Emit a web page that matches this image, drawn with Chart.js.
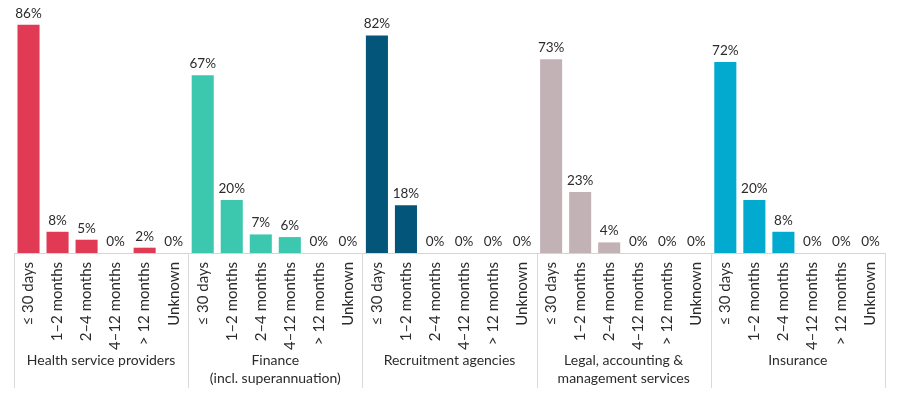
<!DOCTYPE html>
<html>
<head>
<meta charset="utf-8">
<script src="https://cdn.jsdelivr.net/npm/chart.js@4/dist/chart.umd.min.js"></script>
<style>
  html, body { margin: 0; padding: 0; background: #fff; }
  #wrap { width: 900px; height: 395px; position: relative; }
</style>
</head>
<body>
<div id="wrap"><canvas id="c"></canvas></div>
<script>
const groups = ['Health service providers', ['Finance', '(incl. superannuation)'], 'Recruitment agencies', ['Legal, accounting &', 'management services'], 'Insurance'];
const periods = ['≤ 30 days', '1–2 months', '2–4 months', '4–12 months', '> 12 months', 'Unknown'];
const health = [86, 8, 5, 0, 2, 0];
const finance = [67, 20, 7, 6, 0, 0];
const recruitment = [82, 18, 0, 0, 0, 0];
const legal = [73, 23, 4, 0, 0, 0];
const insurance = [72, 20, 8, 0, 0, 0];
const groupColors = ['#E03A54', '#3CC8AE', '#03557A', '#C2B2B6', '#01AACE'];

const series = [health, finance, recruitment, legal, insurance];
const labels = [];
const values = [];
const colors = [];
series.forEach((s, gi) => {
  s.forEach((v, i) => {
    labels.push(periods[i]);
    values.push(v);
    colors.push(groupColors[gi]);
  });
});

const FONT = 'Lato, "Open Sans", sans-serif';

const groupPlugin = {
  id: 'groupPlugin',
  afterDraw(chart) {
    const ctx = chart.ctx;
    const x = chart.scales.x;
    const area = chart.chartArea;
    const n = periods.length;
    const half = (x.getPixelForValue(1) - x.getPixelForValue(0)) / 2;
    ctx.save();
    // separators
    ctx.strokeStyle = '#d9d9d9';
    ctx.lineWidth = 1;
    for (let g = 0; g <= groups.length; g++) {
      let px = g * n < labels.length ? x.getPixelForValue(g * n) - half : x.getPixelForValue(labels.length - 1) + half;
      px = Math.round(px) + 0.5;
      ctx.beginPath();
      ctx.moveTo(px, area.bottom);
      ctx.lineTo(px, area.bottom + 135);
      ctx.stroke();
    }
    // group labels
    ctx.fillStyle = '#2b2b2b';
    ctx.font = '14px ' + FONT;
    ctx.textAlign = 'center';
    ctx.textBaseline = 'middle';
    groups.forEach((g, gi) => {
      const left = x.getPixelForValue(gi * n) - half;
      const right = x.getPixelForValue(gi * n + n - 1) + half;
      const cx = (left + right) / 2;
      const lines = Array.isArray(g) ? g : [g];
      lines.forEach((line, li) => {
        ctx.fillText(line, cx, area.bottom + 107 + li * 18);
      });
    });
    // value labels
    ctx.font = '13.5px ' + FONT;
    ctx.textBaseline = 'alphabetic';
    const meta = chart.getDatasetMeta(0);
    meta.data.forEach((bar, i) => {
      ctx.fillText(values[i] + '%', bar.x, bar.y - 7);
    });
    ctx.restore();
  }
};

new Chart(document.getElementById('c'), {
  type: 'bar',
  data: {
    labels: labels,
    datasets: [{
      data: values,
      backgroundColor: colors,
      borderWidth: 0,
      categoryPercentage: 1.0,
      barPercentage: 0.76
    }]
  },
  options: {
    responsive: true,
    maintainAspectRatio: false,
    animation: false,
    layout: { padding: { left: 14, right: 15, top: 1, bottom: 0 } },
    plugins: { legend: { display: false }, tooltip: { enabled: false } },
    scales: {
      x: {
        grid: { display: false, drawTicks: false },
        border: { display: true, color: '#d4d4d4', width: 1 },
        afterFit(scale) { scale.height = 142; },
        ticks: {
          color: '#2b2b2b',
          font: { family: FONT, size: 15 },
          minRotation: 90,
          maxRotation: 90,
          autoSkip: false,
          padding: 9
        }
      },
      y: {
        display: false,
        min: 0,
        max: 95,
        grid: { display: false }
      }
    }
  },
  plugins: [groupPlugin]
});
</script>
</body>
</html>
